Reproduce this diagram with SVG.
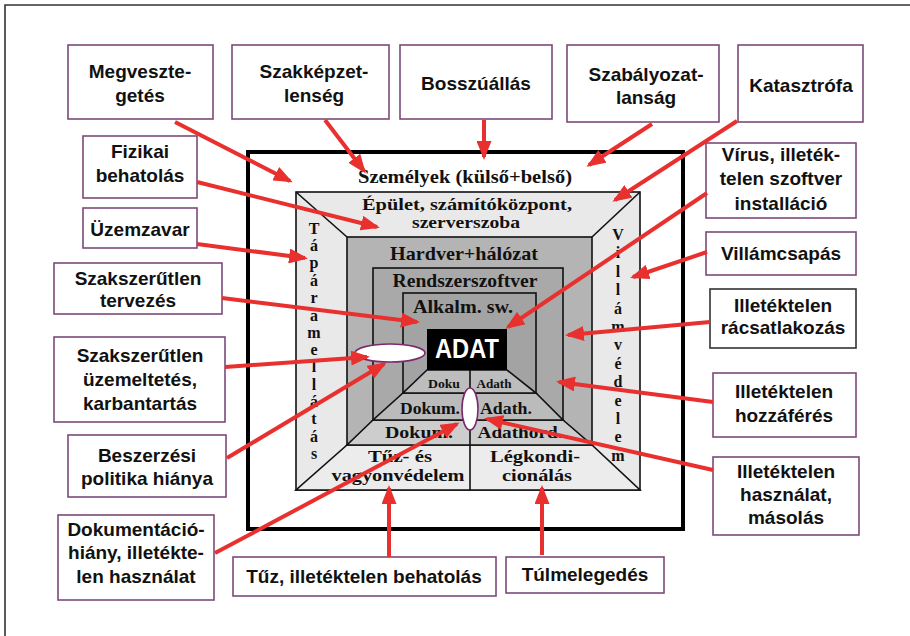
<svg xmlns="http://www.w3.org/2000/svg" width="910" height="636" viewBox="0 0 910 636">
<defs>
<style>
.box{fill:#fff;stroke:#7d4a78;stroke-width:1.6}
.bt{font-family:"Liberation Sans",Arial,sans-serif;font-weight:bold;font-size:19px;fill:#111;text-anchor:middle}
.st{font-family:"Liberation Serif","Times New Roman",serif;font-weight:bold;fill:#111;text-anchor:middle}
.ln{stroke:#111;stroke-width:1.6}
.arr{stroke:#e8302e;stroke-width:4;fill:none;marker-end:url(#ah)}
.ell{fill:#fff;stroke:#7b2a6e;stroke-width:1.6}
</style>
<marker id="ah" markerUnits="userSpaceOnUse" markerWidth="19" markerHeight="15" refX="16" refY="7.5" orient="auto">
<path d="M0,0 L19,7.5 L0,15 z" fill="#e8302e"/>
</marker>
</defs>
<rect x="0" y="0" width="910" height="636" fill="#fff"/>
<path d="M5,636 L5,5 L910,5" fill="none" stroke="#333" stroke-width="1.6"/>

<g id="layers">
<rect x="248" y="152" width="435" height="377" fill="#fff" stroke="#000" stroke-width="4"/>
<rect x="296" y="192" width="344" height="298" fill="#e9e9e9" class="ln"/>
<line x1="296" y1="192" x2="347" y2="237" class="ln"/>
<line x1="640" y1="192" x2="592" y2="237" class="ln"/>
<rect x="347" y="237" width="245" height="208" fill="#b4b4b4" class="ln"/>
<rect x="373" y="268" width="190" height="152" fill="#a9a9a9" class="ln"/>
<rect x="403" y="293" width="133" height="100" fill="#a3a3a3" class="ln"/>
<polygon points="296,490 640,490 592,445 347,445" fill="#ececec" class="ln"/>
<polygon points="347,445 592,445 563,420 373,420" fill="#cdcdcd" class="ln"/>
<polygon points="373,420 563,420 536,393 403,393" fill="#bbbbbb" class="ln"/>
<polygon points="403,393 536,393 507,370 427,370" fill="#bdbdbd" class="ln"/>
<rect x="427" y="329" width="80" height="41" fill="#000"/>
<line x1="470" y1="370" x2="470" y2="490" class="ln"/>

<text class="st" x="465" y="183" font-size="19" textLength="214" lengthAdjust="spacingAndGlyphs">Személyek (külső+belső)</text>
<text class="st" x="467" y="210" font-size="16" textLength="210" lengthAdjust="spacingAndGlyphs">Épület, számítóközpont,</text>
<text class="st" x="466" y="228" font-size="16" textLength="108" lengthAdjust="spacingAndGlyphs">szerverszoba</text>
<text class="st" x="464" y="260" font-size="19" textLength="148" lengthAdjust="spacingAndGlyphs">Hardver+hálózat</text>
<text class="st" x="465" y="287" font-size="19" textLength="145" lengthAdjust="spacingAndGlyphs">Rendszerszoftver</text>
<text class="st" x="463" y="313" font-size="19" textLength="100" lengthAdjust="spacingAndGlyphs">Alkalm. sw.</text>
<text x="467" y="358" font-family="Liberation Sans,Arial,sans-serif" font-weight="bold" font-size="27" fill="#fff" text-anchor="middle" textLength="64" lengthAdjust="spacingAndGlyphs">ADAT</text>
<text class="st" x="444" y="388" font-size="12" textLength="32" lengthAdjust="spacingAndGlyphs">Doku</text>
<text class="st" x="494" y="388" font-size="12" textLength="35" lengthAdjust="spacingAndGlyphs">Adath</text>
<text class="st" x="430" y="414" font-size="17" textLength="60" lengthAdjust="spacingAndGlyphs">Dokum.</text>
<text class="st" x="506" y="414" font-size="17" textLength="52" lengthAdjust="spacingAndGlyphs">Adath.</text>
<text class="st" x="419" y="438" font-size="17" textLength="68" lengthAdjust="spacingAndGlyphs">Dokum.</text>
<text class="st" x="520" y="438" font-size="17" textLength="85" lengthAdjust="spacingAndGlyphs">Adathord.</text>
<text class="st" x="400" y="462" font-size="17" textLength="64" lengthAdjust="spacingAndGlyphs">Tűz- és</text>
<text class="st" x="398" y="481" font-size="17" textLength="133" lengthAdjust="spacingAndGlyphs">vagyonvédelem</text>
<text class="st" x="535" y="462" font-size="17" textLength="90" lengthAdjust="spacingAndGlyphs">Légkondi-</text>
<text class="st" x="537" y="481" font-size="17" textLength="70" lengthAdjust="spacingAndGlyphs">cionálás</text>

<g class="st" font-size="16">
<text x="314" y="234">T</text><text x="314" y="251">á</text><text x="314" y="268">p</text><text x="314" y="286">á</text><text x="314" y="303">r</text><text x="314" y="321">a</text><text x="314" y="338">m</text><text x="314" y="355">e</text><text x="314" y="372">l</text><text x="314" y="390">l</text><text x="314" y="407">á</text><text x="314" y="424">t</text><text x="314" y="442">á</text><text x="314" y="459">s</text>
</g>
<g class="st" font-size="16">
<text x="618" y="240">V</text><text x="618" y="258">i</text><text x="618" y="277">l</text><text x="618" y="295">l</text><text x="618" y="314">á</text><text x="618" y="332">m</text><text x="618" y="350">v</text><text x="618" y="369">é</text><text x="618" y="387">d</text><text x="618" y="406">e</text><text x="618" y="424">l</text><text x="618" y="442">e</text><text x="618" y="461">m</text>
</g>
<ellipse cx="390" cy="353" rx="35" ry="9" class="ell"/>
<ellipse cx="470" cy="409" rx="8" ry="21" class="ell"/>
</g>

<g id="n-megvesztegetes"><rect class="box" x="68" y="45" width="145" height="74"/><text class="bt" x="140" y="78">Megveszte-</text><text class="bt" x="140" y="102">getés</text></g>
<g id="n-szakkepzetlenseg"><rect class="box" x="232" y="45" width="157" height="74"/><text class="bt" x="314" y="78">Szakképzet-</text><text class="bt" x="314" y="102">lenség</text></g>
<g id="n-bosszuallas"><rect class="box" x="400" y="45" width="152" height="74"/><text class="bt" x="476" y="90">Bosszúállás</text></g>
<g id="n-szabalyozatlansag"><rect class="box" x="567" y="45" width="152" height="77"/><text class="bt" x="646" y="81">Szabályozat-</text><text class="bt" x="646" y="104">lanság</text></g>
<g id="n-katasztrofa"><rect class="box" x="738" y="45" width="125" height="77"/><text class="bt" x="801" y="92">Katasztrófa</text></g>

<g id="n-fizikai"><rect class="box" x="83" y="136" width="114" height="62"/><text class="bt" x="140" y="158">Fizikai</text><text class="bt" x="140" y="182">behatolás</text></g>
<g id="n-uzemzavar"><rect class="box" x="83" y="208" width="114" height="40"/><text class="bt" x="140" y="236">Üzemzavar</text></g>
<g id="n-tervezes"><rect class="box" x="54" y="263" width="168" height="51"/><text class="bt" x="138" y="285">Szakszerűtlen</text><text class="bt" x="138" y="307">tervezés</text></g>
<g id="n-uzemeltetes"><rect class="box" x="54" y="337" width="171" height="85"/><text class="bt" x="140" y="362">Szakszerűtlen</text><text class="bt" x="140" y="386">üzemeltetés,</text><text class="bt" x="140" y="410">karbantartás</text></g>
<g id="n-beszerzesi"><rect class="box" x="68" y="435" width="158" height="62"/><text class="bt" x="147" y="462">Beszerzési</text><text class="bt" x="147" y="485">politika hiánya</text></g>
<g id="n-dokumentacio"><rect class="box" x="58" y="515" width="156" height="85"/><text class="bt" x="136" y="536">Dokumentáció-</text><text class="bt" x="136" y="559">hiány, illetékte-</text><text class="bt" x="136" y="583">len használat</text></g>

<g id="n-virus"><rect class="box" x="706" y="143" width="150" height="75"/><text class="bt" x="781" y="161">Vírus, illeték-</text><text class="bt" x="781" y="185">telen szoftver</text><text class="bt" x="781" y="210">installáció</text></g>
<g id="n-villamcsapas"><rect class="box" x="706" y="232" width="150" height="43"/><text class="bt" x="781" y="260">Villámcsapás</text></g>
<g id="n-racsatlakozas"><rect class="box" style="stroke:#333" x="710" y="289" width="146" height="59"/><text class="bt" x="783" y="312">Illetéktelen</text><text class="bt" x="783" y="334">rácsatlakozás</text></g>
<g id="n-hozzaferes"><rect class="box" x="713" y="373" width="143" height="64"/><text class="bt" x="784" y="398">Illetéktelen</text><text class="bt" x="784" y="422">hozzáférés</text></g>
<g id="n-hasznalat"><rect class="box" x="713" y="457" width="146" height="78"/><text class="bt" x="786" y="478">Illetéktelen</text><text class="bt" x="786" y="501">használat,</text><text class="bt" x="786" y="524">másolás</text></g>

<g id="n-tuz"><rect class="box" x="233" y="557" width="263" height="39"/><text class="bt" x="364" y="583">Tűz, illetéktelen behatolás</text></g>
<g id="n-tulmelegedes"><rect class="box" x="506" y="557" width="158" height="36"/><text class="bt" x="585" y="581">Túlmelegedés</text></g>

<g id="connectors">
<line class="arr" x1="175" y1="122" x2="290" y2="181"/>
<line class="arr" x1="325" y1="120" x2="364" y2="171"/>
<line class="arr" x1="484" y1="120" x2="484" y2="157"/>
<line class="arr" x1="652" y1="124" x2="589" y2="165"/>
<line class="arr" x1="737" y1="121" x2="615" y2="200"/>
<line class="arr" x1="707" y1="193" x2="508" y2="327"/>
<line class="arr" x1="197" y1="182" x2="377" y2="227"/>
<line class="arr" x1="197" y1="244" x2="305" y2="258"/>
<line class="arr" x1="222" y1="298" x2="417" y2="322"/>
<line class="arr" x1="225" y1="367" x2="367" y2="357"/>
<line class="arr" x1="227" y1="458" x2="384" y2="364"/>
<line class="arr" x1="215" y1="553" x2="457" y2="424"/>
<line class="arr" x1="389" y1="557" x2="389" y2="488"/>
<line class="arr" x1="542" y1="555" x2="542" y2="488"/>
<line class="arr" x1="707" y1="252" x2="633" y2="277"/>
<line class="arr" x1="710" y1="322" x2="568" y2="335"/>
<line class="arr" x1="713" y1="402" x2="559" y2="382"/>
<line class="arr" x1="713" y1="470" x2="487" y2="419"/>
</g>
</svg>
